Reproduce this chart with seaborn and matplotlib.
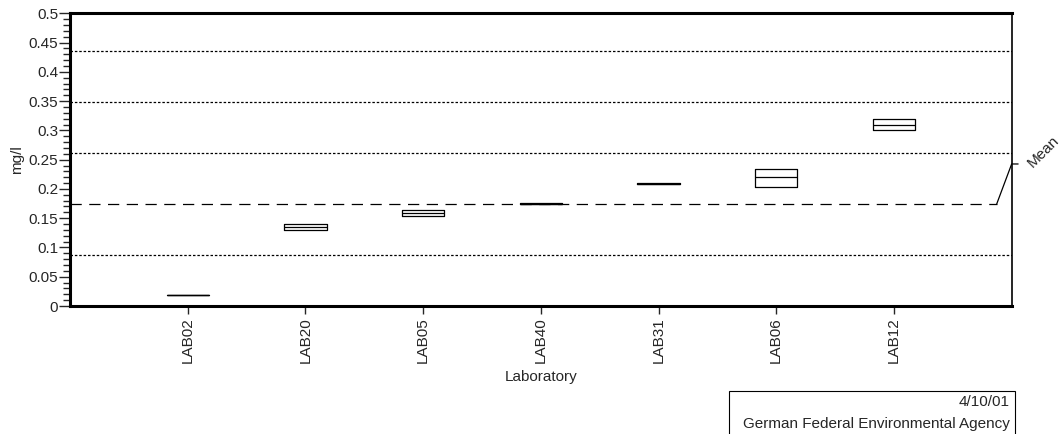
import pandas as pd
import matplotlib.pyplot as plt
import seaborn as sns
from matplotlib.patches import Rectangle
from matplotlib.ticker import MultipleLocator, FuncFormatter

# -----------------------------
# Data
# -----------------------------
labs = ["LAB02", "LAB20", "LAB05", "LAB40", "LAB31", "LAB06", "LAB12"]
low = [0.0188, 0.1306, 0.1544, 0.1736, 0.2084, 0.2033, 0.3007]
mid = [0.0188, 0.1353, 0.1595, 0.1745, 0.2092, 0.2210, 0.3100]
high = [0.0188, 0.1400, 0.1645, 0.1754, 0.2100, 0.2345, 0.3194]

mean_value = 0.1743
sd_value = 0.0872
sd_levels = [-1, 1, 2, 3]

# long table: low, low, mid, high, high -> Q1=low, median=mid, Q3=high
rows = []
for lab, lo, md, hi in zip(labs, low, mid, high):
    for v in [lo, lo, md, hi, hi]:
        rows.append({"Laboratory": lab, "value": v})
data = pd.DataFrame(rows)

# -----------------------------
# Figure
# -----------------------------
sns.set_style("ticks")
plt.rcParams["font.family"] = ["Liberation Sans", "DejaVu Sans"]
plt.rcParams["font.size"] = 11

fig = plt.figure(figsize=(10.62, 4.34), dpi=100)
ax = fig.add_axes([0.0659, 0.2949, 0.8867, 0.6745])

sns.boxplot(
    data=data,
    x="Laboratory",
    y="value",
    order=labs,
    width=0.36,
    whis=0,
    showcaps=False,
    showfliers=False,
    fill=False,
    color="black",
    linewidth=0.9,
    ax=ax
)

# standard deviation lines
for k in sd_levels:
    ax.axhline(mean_value + k * sd_value, color="black", lw=0.9,
               linestyle=(0, (2.0, 1.5)), zorder=1)

# mean line (stops before right spine)
ax.plot([-1, 6.873], [mean_value, mean_value], color="black", lw=0.9,
        linestyle=(0, (9, 6)), zorder=1)

# mean annotation
ax.plot([6.873, 7.0, 7.055], [mean_value, 0.2426, 0.2426],
        color="black", lw=0.9, clip_on=False)
ax.text(7.2, 0.232, "Mean", rotation=45, ha="left", va="bottom",
        fontsize=11, rotation_mode="anchor")

ax.set_xlim(-1, 7)
ax.set_ylim(0, 0.5)
ax.yaxis.set_major_locator(MultipleLocator(0.05))
ax.yaxis.set_minor_locator(MultipleLocator(0.01))
ax.yaxis.set_major_formatter(FuncFormatter(lambda v, p: f"{round(v, 2):g}"))

ax.tick_params(axis="y", which="major", length=8, width=1, direction="out", pad=0.5)
ax.tick_params(axis="y", which="minor", length=5, width=1, direction="out")
ax.tick_params(axis="x", length=6, width=1, direction="out", pad=2)
plt.setp(ax.get_xticklabels(), rotation=90)

for side in ["left", "bottom", "top"]:
    ax.spines[side].set_linewidth(2.2)
ax.spines["right"].set_linewidth(1.2)
for side in ax.spines:
    ax.spines[side].set_visible(True)
    ax.spines[side].set_color("black")

ax.set_xlabel("Laboratory", labelpad=5)
ax.set_ylabel("mg/l")
ax.yaxis.set_label_coords(-0.049, 0.5)

# -----------------------------
# Footer box
# -----------------------------
fig.patches.append(Rectangle((0.6864, -0.01), 0.2693, 0.109,
                             transform=fig.transFigure, fill=False,
                             edgecolor="black", lw=0.8))
fig.text(0.951, 0.074, "4/10/01", ha="right", va="center", fontsize=11)
fig.text(0.951, 0.023, "German Federal Environmental Agency",
         ha="right", va="center", fontsize=11)

plt.savefig("out.png", dpi=100)
plt.close()
